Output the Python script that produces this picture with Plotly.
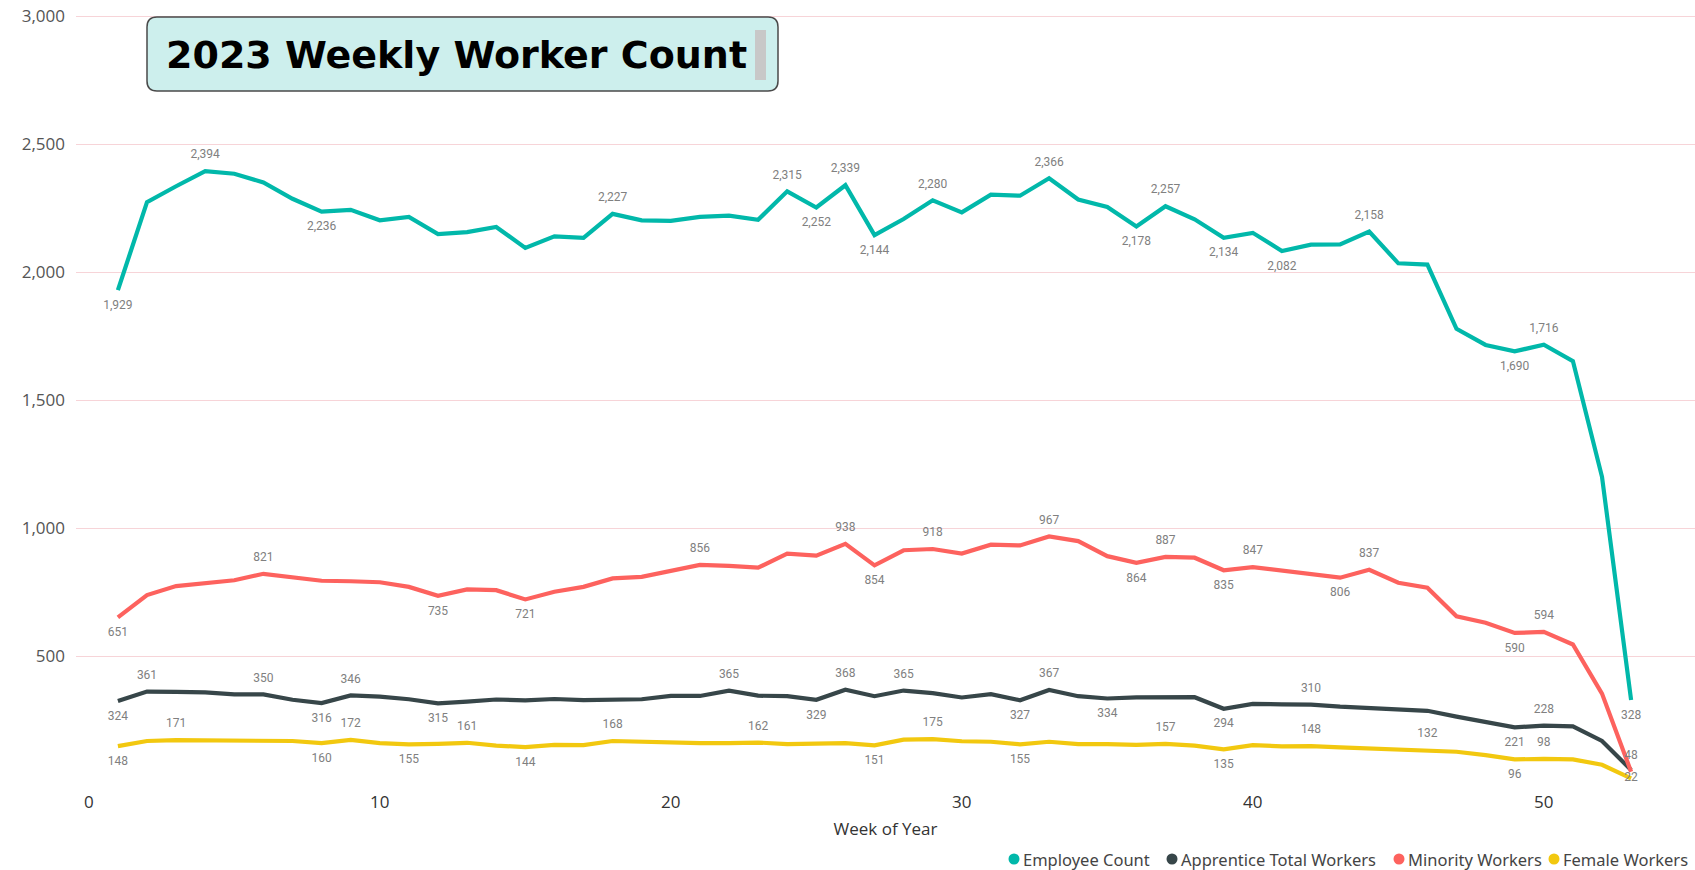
import plotly.graph_objects as go

weeks = list(range(1, 54))

employee_count = [1929, 2273, 2335, 2394, 2384, 2350, 2286, 2236, 2243, 2202, 2215, 2148, 2156, 2176, 2094, 2139, 2133,
                  2227, 2202, 2200, 2215, 2220, 2204, 2315, 2252, 2339, 2144, 2207, 2280, 2233, 2302, 2298, 2366, 2283,
                  2254, 2178, 2257, 2206, 2134, 2153, 2082, 2107, 2108, 2158, 2034, 2029, 1778, 1715, 1690, 1716, 1652,
                  1200, 328]
apprentice_workers = [324, 361, 360, 358, 350, 350, 329, 316, 346, 341, 331, 315, 322, 330, 327, 332, 328, 328, 331,
                      344, 344, 365, 345, 343, 329, 368, 343, 365, 355, 338, 351, 327, 367, 343, 334, 338, 340, 339,
                      294, 313, 311, 310, 302, 297, 289, 286, 263, 240, 221, 228, 225, 168, 55]
minority_workers = [651, 738, 773, 783, 796, 821, 806, 794, 792, 788, 770, 735, 760, 757, 721, 751, 770, 803, 809, 832,
                    856, 852, 845, 900, 892, 938, 854, 913, 918, 900, 935, 932, 967, 949, 890, 864, 887, 884, 835, 847,
                    833, 818, 806, 837, 786, 767, 655, 630, 590, 594, 545, 353, 48]
female_workers = [148, 168, 171, 170, 167, 170, 168, 160, 172, 160, 155, 157, 161, 150, 144, 153, 152, 168, 164, 164,
                  160, 160, 162, 156, 156, 160, 151, 173, 175, 167, 165, 155, 165, 156, 156, 153, 157, 150, 135, 152,
                  147, 148, 143, 138, 136, 132, 126, 113, 96, 98, 96, 75, 22]

series_names = ["Employee Count", "Apprentice Total Workers", "Minority Workers", "Female Workers"]
y_ticks = [500, 1000, 1500, 2000, 2500, 3000]
x_ticks = [0, 10, 20, 30, 40, 50]

# weeks that carry a data label: week -> "t" (above) / "b" (below) / "m" (centre)
employee_labels = {1: "b", 4: "t", 8: "b", 18: "t", 24: "t", 25: "b", 26: "t", 27: "b", 29: "t", 33: "t",
                   36: "b", 37: "t", 39: "b", 41: "b", 44: "t", 49: "b", 50: "t", 53: "b"}
apprentice_labels = {1: "b", 2: "t", 6: "t", 8: "b", 9: "t", 12: "b", 22: "t", 25: "b", 26: "t", 28: "t",
                     32: "b", 33: "t", 35: "b", 39: "b", 42: "t", 49: "b", 50: "t"}
minority_labels = {1: "b", 6: "t", 12: "b", 15: "b", 21: "t", 26: "t", 27: "b", 29: "t", 33: "t", 36: "b",
                   37: "t", 39: "b", 40: "t", 43: "b", 44: "t", 49: "b", 50: "t", 53: "t"}
female_labels = {1: "b", 3: "t", 8: "b", 9: "t", 11: "b", 13: "t", 15: "b", 18: "t", 23: "t", 27: "b",
                 29: "t", 32: "b", 37: "t", 39: "b", 42: "t", 46: "t", 49: "b", 50: "t", 53: "m"}

colors = ["#01B8AA", "#374649", "#FD625E", "#F2C80F"]

L, T, W, H = 76, 14, 1619, 770


def px(x):
    return (x - L) / W


def py(y):
    return (T + H - y) / H


def label_arrays(values, labels):
    text, pos = [], []
    for w, v in zip(weeks, values):
        p = labels.get(w)
        text.append(f"{v:,}" if p else "")
        pos.append({"t": "top center", "b": "bottom center", "m": "middle center"}.get(p, "top center"))
    return text, pos


fig = go.Figure()
data = [(employee_count, employee_labels), (apprentice_workers, apprentice_labels),
        (minority_workers, minority_labels), (female_workers, female_labels)]
order = [0, 1, 3, 2]
for i in order:
    vals, labs = data[i]
    text, pos = label_arrays(vals, labs)
    fig.add_trace(go.Scatter(
        x=weeks, y=vals, mode="lines+markers+text", name=series_names[i], showlegend=False,
        line=dict(color=colors[i], width=4.2),
        marker=dict(size=14, color="rgba(0,0,0,0)", line=dict(width=0)),
        text=text, textposition=pos,
        textfont=dict(family="Roboto, DejaVu Sans", size=12, color="#808080"),
        hoverinfo="skip", cliponaxis=False))

# rounded title box
x0, y0, x1, y1, r = 147, 17, 778, 91, 10
path = (f"M {px(x0 + r)},{py(y0)} L {px(x1 - r)},{py(y0)} Q {px(x1)},{py(y0)} {px(x1)},{py(y0 + r)} "
        f"L {px(x1)},{py(y1 - r)} Q {px(x1)},{py(y1)} {px(x1 - r)},{py(y1)} "
        f"L {px(x0 + r)},{py(y1)} Q {px(x0)},{py(y1)} {px(x0)},{py(y1 - r)} "
        f"L {px(x0)},{py(y0 + r)} Q {px(x0)},{py(y0)} {px(x0 + r)},{py(y0)} Z")

shapes = [
    dict(type="path", xref="paper", yref="paper", path=path, fillcolor="#CDEFED",
         line=dict(color="#4a4a4a", width=1.5), layer="above"),
    dict(type="rect", xref="paper", yref="paper", x0=px(755), x1=px(766), y0=py(80), y1=py(30),
         fillcolor="#C8C8C8", line=dict(width=0), layer="above"),
]
annotations = [
    dict(text="<b>2023 Weekly Worker Count</b>", xref="paper", yref="paper", x=px(456), y=py(55),
         xanchor="center", yanchor="middle", showarrow=False,
         font=dict(family="Comic Sans MS, DejaVu Sans, sans-serif", size=38, color="black")),
]

# legend: coloured dots + labels along the bottom right
legend_dot_x = [1014, 1172, 1399, 1554]
legend_y = 859
for c, n, dx in zip(colors, series_names, legend_dot_x):
    shapes.append(dict(type="circle", xref="paper", yref="paper",
                       x0=px(dx - 5.5), x1=px(dx + 5.5), y0=py(legend_y + 5.5), y1=py(legend_y - 5.5),
                       fillcolor=c, line=dict(width=0)))
    annotations.append(dict(text=n, xref="paper", yref="paper", x=px(dx + 8), y=py(legend_y),
                            xanchor="left", yanchor="middle", showarrow=False, borderpad=0,
                            font=dict(family="Noto Sans, Open Sans", size=16.5, color="#444444")))

fig.update_layout(
    width=1695, height=870, autosize=False,
    margin=dict(l=L, r=0, t=T, b=870 - T - H, pad=0),
    paper_bgcolor="white", plot_bgcolor="white",
    font=dict(family="Open Sans, Noto Sans, sans-serif", color="#555555"),
    showlegend=False,
    xaxis=dict(range=[(L - 88.8) / 29.1, (1695 - 88.8) / 29.1], tickvals=x_ticks, showgrid=False,
               zeroline=False, showline=False, ticks="", ticklabelstandoff=6,
               tickfont=dict(size=17, color="#333333"),
               title=dict(text="Week of Year", font=dict(size=17, color="#333333"), standoff=11)),
    yaxis=dict(range=[0, 3000 * H / 768], tickvals=y_ticks, tickformat=",", showgrid=True,
               gridcolor="#F7D4D8", gridwidth=1, zeroline=False, showline=False, ticks="",
               ticklabelstandoff=10, tickfont=dict(size=17, color="#555555")),
    shapes=shapes,
    annotations=annotations,
)

fig.write_html("out.html", config={"displayModeBar": False},
               post_script="document.body.style.margin='0';document.body.style.overflow='hidden';")
